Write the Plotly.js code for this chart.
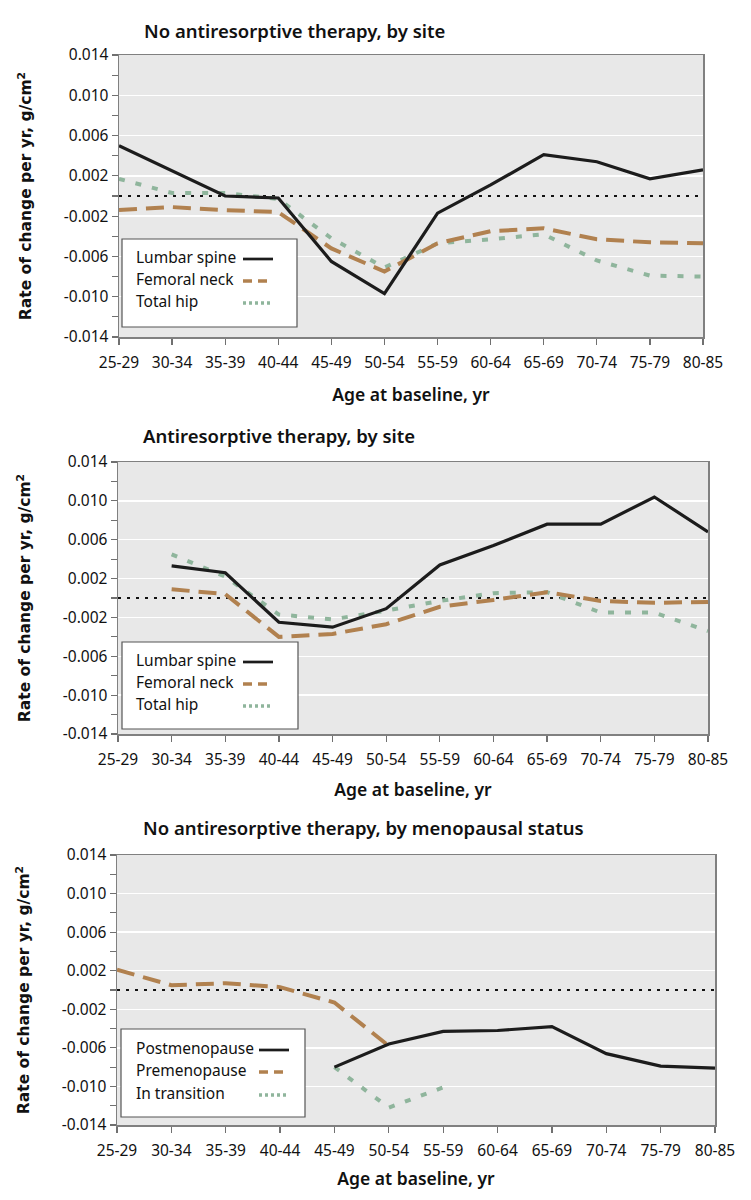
<!DOCTYPE html>
<html>
<head>
<meta charset="utf-8">
<script src="https://cdn.plot.ly/plotly-3.0.1.min.js"></script>
<style>html,body{margin:0;padding:0;background:#fff;}#chart{width:751px;height:1200px;}</style>
</head>
<body>
<div id="chart"></div>
<script>
// ---- data ----
const ageGroups = ['25-29','30-34','35-39','40-44','45-49','50-54','55-59','60-64','65-69','70-74','75-79','80-85'];

// Panel 1: No antiresorptive therapy, by site
const p1Lumbar  = [0.0050, 0.0025, 0.0000, -0.0002, -0.0065, -0.0097, -0.0017, 0.0011, 0.0041, 0.0034, 0.0017, 0.0026];
const p1Femoral = [-0.0014, -0.0011, -0.0014, -0.0016, -0.0052, -0.0075, -0.0047, -0.0035, -0.0032, -0.0043, -0.0046, -0.0047];
const p1Hip     = [0.0017, 0.0003, 0.0003, -0.0003, -0.0042, -0.0071, -0.0047, -0.0043, -0.0038, -0.0064, -0.0079, -0.0080];

// Panel 2: Antiresorptive therapy, by site
const p2Lumbar  = [null, 0.0033, 0.0026, -0.0025, -0.0030, -0.0011, 0.0034, 0.0054, 0.0076, 0.0076, 0.0104, 0.0068];
const p2Femoral = [null, 0.0009, 0.0004, -0.0040, -0.0037, -0.0027, -0.0009, -0.0002, 0.0006, -0.0003, -0.0005, -0.0004];
const p2Hip     = [null, 0.0045, 0.0022, -0.0017, -0.0022, -0.0013, -0.0003, 0.0005, 0.0006, -0.0015, -0.0015, -0.0034];

// Panel 3: No antiresorptive therapy, by menopausal status
const p3Post    = [null, null, null, null, -0.0080, -0.0056, -0.0043, -0.0042, -0.0038, -0.0066, -0.0079, -0.0081];
const p3Pre     = [0.0021, 0.0005, 0.0007, 0.0003, -0.0013, -0.0058, null, null, null, null, null, null];
const p3Trans   = [null, null, null, null, -0.0080, -0.0122, -0.0101, null, null, null, null, null];

const yTickVals = [0.014, 0.010, 0.006, 0.002, -0.002, -0.006, -0.010, -0.014];
const yTickText = ['0.014', '0.010', '0.006', '0.002', '-0.002', '-0.006', '-0.010', '-0.014'];

const panelTitles = ['No antiresorptive therapy, by site', 'Antiresorptive therapy, by site', 'No antiresorptive therapy, by menopausal status'];
const siteNames = ['Lumbar spine', 'Femoral neck', 'Total hip'];
const statusNames = ['Postmenopause', 'Premenopause', 'In transition'];

// ---- styles ----
const W = 751, H = 1200;
const BLACK = '#1c1c1c', BROWN = '#b1814f', GREEN = '#8fb59c';
const styles = [
  {color: BLACK, width: 3.2, dash: 'solid'},
  {color: BROWN, width: 4, dash: '18px,9px'},
  {color: GREEN, width: 4, dash: '6px,11px'}
];
const px = v => v / W;
const py = v => 1 - v / H;

function tr(y, name, si, ax) {
  return {
    x: ageGroups, y: y, name: name, type: 'scatter', mode: 'lines',
    xaxis: 'x' + ax, yaxis: 'y' + ax, connectgaps: false, showlegend: false,
    line: {color: styles[si].color, width: styles[si].width, dash: styles[si].dash}
  };
}

// draw order: hip, femoral, lumbar (black on top)
const data = [
  tr(p1Hip, siteNames[2], 2, ''), tr(p1Femoral, siteNames[1], 1, ''), tr(p1Lumbar, siteNames[0], 0, ''),
  tr(p2Hip, siteNames[2], 2, '2'), tr(p2Femoral, siteNames[1], 1, '2'), tr(p2Lumbar, siteNames[0], 0, '2'),
  tr(p3Trans, statusNames[2], 2, '3'), tr(p3Pre, statusNames[1], 1, '3'), tr(p3Post, statusNames[0], 0, '3')
];

const tickFont = {family: 'Noto Sans', size: 15.5, color: '#111'};
function xAxis(domain, anchor, standoff) {
  return {
    domain: domain, anchor: anchor, type: 'category', range: [0, 11],
    showgrid: false, zeroline: false,
    showline: true, linecolor: '#808080', linewidth: 1.5, mirror: true,
    ticks: 'outside', ticklen: 6, tickcolor: '#707070', tickwidth: 1.2,
    ticklabelstandoff: 5,
    tickfont: tickFont,
    title: {text: 'Age at baseline, yr', font: {family: 'Noto Sans', size: 17.5, weight: 600, color: '#111'}, standoff: standoff}
  };
}
function yAxis(domain, anchor) {
  return {
    domain: domain, anchor: anchor, range: [-0.014, 0.014],
    tickmode: 'array', tickvals: yTickVals, ticktext: yTickText,
    showgrid: true, gridcolor: '#ffffff', gridwidth: 1.5, zeroline: false,
    showline: true, linecolor: '#808080', linewidth: 1.5, mirror: true,
    ticks: 'outside', ticklen: 6, tickcolor: '#707070', tickwidth: 1.2,
    minor: {tickmode: 'linear', tick0: 0.012, dtick: 0.004, ticks: 'outside', ticklen: 6, tickcolor: '#707070', showgrid: false},
    tickfont: tickFont,
    title: {text: 'Rate of change per yr, g/cm<sup>2</sup>', font: {family: 'DejaVu Sans', size: 15.5, weight: 'bold', color: '#111'}, standoff: 28}
  };
}

const panels = [
  {x: [119, 703], y: [55, 337], title: [142, 30], xs: 16, legend: {box: [122, 297, 239, 327], tx: 134, lx: [243, 273], ty: [257, 279, 301], names: siteNames}},
  {x: [118, 708], y: [462, 734], title: [141, 436], xs: 14, legend: {box: [122, 298, 642, 729], tx: 134, lx: [243, 273], ty: [660, 682, 704], names: siteNames}},
  {x: [117, 715], y: [855, 1125], title: [141, 828], xs: 12, legend: {box: [121, 305, 1029, 1117], tx: 134, lx: [259, 289], ty: [1048, 1070, 1093], names: statusNames}}
];

const layout = {
  width: W, height: H,
  margin: {l: 0, r: 0, t: 0, b: 0},
  paper_bgcolor: '#ffffff', plot_bgcolor: '#e8e8e8',
  showlegend: false,
  shapes: [], annotations: []
};
const axIds = ['', '2', '3'];
panels.forEach((p, i) => {
  const xd = [px(p.x[0]), px(p.x[1])];
  const yd = [py(p.y[1]), py(p.y[0])];
  layout['xaxis' + axIds[i]] = xAxis(xd, 'y' + axIds[i], p.xs);
  layout['yaxis' + axIds[i]] = yAxis(yd, 'x' + axIds[i]);
  // zero reference line
  layout.shapes.push({type: 'line', layer: 'below', xref: 'x' + axIds[i] + ' domain', yref: 'y' + axIds[i], x0: 0, x1: 1, y0: 0, y1: 0,
    line: {color: '#111', width: 2, dash: '3px,6px'}});
  // panel title
  layout.annotations.push({xref: 'paper', yref: 'paper', x: px(p.title[0]), y: py(p.title[1]), xanchor: 'left', yanchor: 'middle',
    text: panelTitles[i], showarrow: false, font: {family: 'Noto Sans', size: 18.5, weight: 600, color: '#111'}});
  // legend box
  const L = p.legend;
  layout.shapes.push({type: 'rect', layer: 'above', xref: 'paper', yref: 'paper', x0: px(L.box[0]), x1: px(L.box[1]), y0: py(L.box[3]), y1: py(L.box[2]),
    fillcolor: '#ffffff', line: {color: '#555555', width: 1.2}});
  L.names.forEach((n, k) => {
    layout.annotations.push({xref: 'paper', yref: 'paper', x: px(L.tx), y: py(L.ty[k]), xanchor: 'left', yanchor: 'middle',
      text: n, showarrow: false, font: {family: 'Noto Sans', size: 15.5, color: '#111'}});
    const s = styles[k];
    layout.shapes.push({type: 'line', layer: 'above', xref: 'paper', yref: 'paper', x0: px(L.lx[0]), x1: px(L.lx[1]), y0: py(L.ty[k] + 2), y1: py(L.ty[k] + 2),
      line: {color: s.color, width: s.width - 0.5, dash: k === 0 ? 'solid' : (k === 1 ? '9px,6px' : '3px,3px')}});
  });
});

Plotly.newPlot('chart', data, layout, {staticPlot: true, displayModeBar: false});
</script>
</body>
</html>
